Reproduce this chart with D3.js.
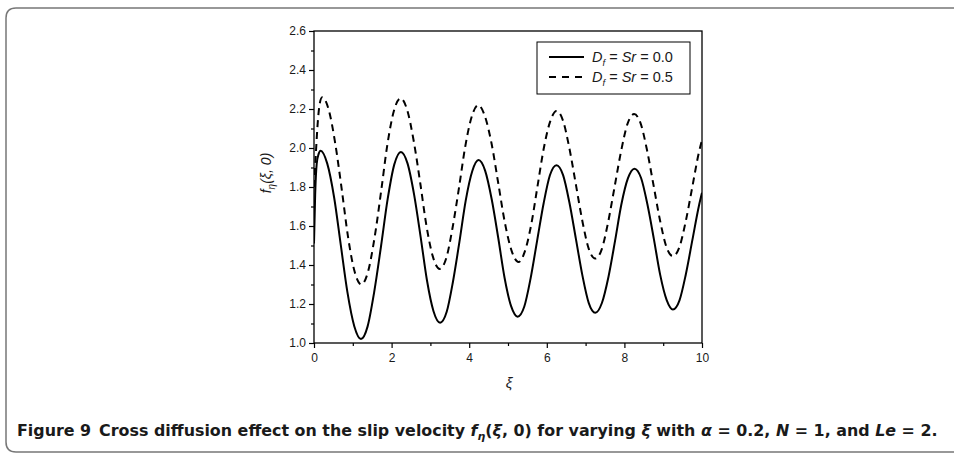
<!DOCTYPE html>
<html>
<head>
<meta charset="utf-8">
<script src="https://cdn.jsdelivr.net/npm/d3@7"></script>
<style>
  body { margin: 0; background: #fff; }
  svg { display: block; }
  text { font-family: Arial, "Liberation Sans", sans-serif; fill: #1a1a1a; }
</style>
</head>
<body>
<svg width="954" height="456"></svg>
<script>
// solid curve, Df = Sr = 0.0
const solidXi = [0, 0.03, 0.07, 0.12, 0.17, 0.34, 0.52, 0.69, 0.86, 1.04, 1.21,
  1.38, 1.55, 1.73, 1.90, 2.07, 2.24, 2.41, 2.58, 2.75, 2.91, 3.08, 3.25,
  3.42, 3.58, 3.75, 3.91, 4.08, 4.24, 4.41, 4.58, 4.75, 4.91, 5.08, 5.25,
  5.42, 5.58, 5.75, 5.92, 6.08, 6.25, 6.42, 6.58, 6.75, 6.92, 7.08, 7.25,
  7.42, 7.59, 7.76, 7.92, 8.09, 8.26, 8.43, 8.59, 8.76, 8.92, 9.09, 9.25,
  9.42, 9.58, 9.75, 9.92, 10.0];
const solidF = [1.51, 1.76, 1.92, 1.97, 1.986, 1.921, 1.745, 1.503, 1.262, 1.085, 1.020,
  1.084, 1.26, 1.50, 1.74, 1.916, 1.98, 1.921, 1.761, 1.542, 1.323, 1.163, 1.104,
  1.160, 1.313, 1.521, 1.730, 1.882, 1.938, 1.884, 1.737, 1.537, 1.336, 1.189, 1.135,
  1.187, 1.329, 1.524, 1.718, 1.860, 1.912, 1.861, 1.723, 1.534, 1.344, 1.206, 1.155,
  1.205, 1.340, 1.525, 1.709, 1.844, 1.894, 1.846, 1.714, 1.533, 1.352, 1.220, 1.172,
  1.219, 1.349, 1.526, 1.703, 1.77];

// dashed curve, Df = Sr = 0.5
const dashedXi = [0, 0.05, 0.10, 0.15, 0.21, 0.38, 0.55, 0.72, 0.88, 1.05, 1.22,
  1.39, 1.56, 1.73, 1.89, 2.06, 2.23, 2.40, 2.57, 2.74, 2.90, 3.07, 3.24,
  3.41, 3.57, 3.74, 3.90, 4.07, 4.23, 4.40, 4.58, 4.75, 4.92, 5.10, 5.27,
  5.43, 5.60, 5.76, 5.92, 6.09, 6.25, 6.42, 6.58, 6.75, 6.92, 7.08, 7.25,
  7.42, 7.58, 7.75, 7.92, 8.08, 8.25, 8.42, 8.58, 8.75, 8.92, 9.08, 9.25,
  9.42, 9.58, 9.75, 9.92, 10.0];
const dashedF = [1.80, 1.98, 2.14, 2.23, 2.26, 2.196, 2.02, 1.78, 1.54, 1.364, 1.30,
  1.364, 1.539, 1.778, 2.016, 2.191, 2.255, 2.196, 2.036, 1.818, 1.599, 1.439, 1.38,
  1.436, 1.59, 1.80, 2.01, 2.164, 2.22, 2.166, 2.019, 1.818, 1.616, 1.469, 1.415,
  1.467, 1.609, 1.803, 1.996, 2.138, 2.19, 2.139, 2.001, 1.812, 1.622, 1.484, 1.433,
  1.483, 1.619, 1.804, 1.989, 2.124, 2.174, 2.125, 1.992, 1.810, 1.627, 1.494, 1.445,
  1.493, 1.623, 1.80, 1.977, 2.04];

const xMajor = [0, 2, 4, 6, 8, 10];
const xMinor = [1, 3, 5, 7, 9];
const yMajor = [1.0, 1.2, 1.4, 1.6, 1.8, 2.0, 2.2, 2.4, 2.6];
const yMinor = [1.1, 1.3, 1.5, 1.7, 1.9, 2.1, 2.3, 2.5];
const legendLabels = ["0.0", "0.5"];

const svg = d3.select("svg");
const pLeft = 314, pRight = 702, pTop = 31, pBottom = 343;

// outer figure frame, cut at the right edge
svg.append("path")
  .attr("d", "M 960 8 L 16 8 Q 6 8 6 18 L 6 442 Q 6 452 16 452 L 960 452")
  .attr("fill", "none")
  .attr("stroke", "#777")
  .attr("stroke-width", 1.5);

let x = d3.scaleLinear().domain([0, 10]).range([pLeft, pRight]);
let y = d3.scaleLinear().domain([1.0, 2.6]).range([pBottom, pTop]);

svg.append("clipPath").attr("id", "plot")
  .append("rect")
  .attr("x", pLeft).attr("y", pTop)
  .attr("width", pRight - pLeft).attr("height", pBottom - pTop);

let line = d3.line()
  .x(d => x(d[0]))
  .y(d => y(d[1]))
  .curve(d3.curveMonotoneX);

svg.append("path")
  .datum(solidXi.map((v, i) => [v, solidF[i]]))
  .attr("d", line)
  .attr("clip-path", "url(#plot)")
  .attr("fill", "none")
  .attr("stroke", "#000")
  .attr("stroke-width", 2);

svg.append("path")
  .datum(dashedXi.map((v, i) => [v, dashedF[i]]))
  .attr("d", line)
  .attr("clip-path", "url(#plot)")
  .attr("fill", "none")
  .attr("stroke", "#000")
  .attr("stroke-width", 2)
  .attr("stroke-dasharray", "7,5");

// axes
let xAxis = d3.axisBottom(x).tickValues(xMajor).tickFormat(d3.format("d"))
  .tickSizeInner(5).tickSizeOuter(0).tickPadding(5);
let xAxisMinor = d3.axisBottom(x).tickValues(xMinor).tickFormat("")
  .tickSizeInner(3).tickSizeOuter(0);
let yAxis = d3.axisLeft(y).tickValues(yMajor).tickFormat(d3.format(".1f"))
  .tickSizeInner(5).tickSizeOuter(0).tickPadding(3);
let yAxisMinor = d3.axisLeft(y).tickValues(yMinor).tickFormat("")
  .tickSizeInner(3).tickSizeOuter(0);

[[xAxis, "bottom"], [xAxisMinor, "bottom"], [yAxis, "left"], [yAxisMinor, "left"]]
  .forEach(([ax, side]) => {
    let g = svg.append("g")
      .attr("transform", side == "bottom" ? `translate(0,${pBottom})` : `translate(${pLeft},0)`)
      .call(ax);
    g.select(".domain").remove();
    g.selectAll("line").attr("stroke", "#000").attr("stroke-width", 1.2);
    g.selectAll("text")
      .style("font-family", "Arial, 'Liberation Sans', sans-serif")
      .style("font-size", "12px")
      .attr("fill", "#1a1a1a");
  });

svg.append("rect")
  .attr("x", pLeft).attr("y", pTop)
  .attr("width", pRight - pLeft).attr("height", pBottom - pTop)
  .attr("fill", "none")
  .attr("stroke", "#000")
  .attr("stroke-width", 1.3);

// axis titles
let yTitle = svg.append("text")
  .attr("transform", "translate(271,173) rotate(-90)")
  .attr("text-anchor", "middle")
  .style("font-size", "14px")
  .style("font-style", "italic");
yTitle.append("tspan").text("f");
yTitle.append("tspan").attr("dy", 4).style("font-size", "10px").text("η");
yTitle.append("tspan").attr("dy", -4).text("(ξ, 0)");

svg.append("text")
  .attr("x", 509).attr("y", 388)
  .attr("text-anchor", "middle")
  .style("font-size", "15px")
  .style("font-style", "italic")
  .text("ξ");

// legend
svg.append("rect")
  .attr("x", 537).attr("y", 42).attr("width", 153).attr("height", 52)
  .attr("fill", "#fff").attr("stroke", "#000").attr("stroke-width", 1);

legendLabels.forEach((lab, i) => {
  let ly = 57 + i * 20;
  svg.append("line")
    .attr("x1", 549).attr("x2", 584).attr("y1", ly).attr("y2", ly)
    .attr("stroke", "#000").attr("stroke-width", 2)
    .attr("stroke-dasharray", i == 0 ? null : "7,6");
  let t = svg.append("text")
    .attr("x", 592).attr("y", ly + 5)
    .style("font-size", "14.5px");
  t.append("tspan").style("font-style", "italic").text("D");
  t.append("tspan").attr("dy", 4).style("font-size", "9.5px").style("font-style", "italic").text("f");
  t.append("tspan").attr("dy", -4).text(" = ");
  t.append("tspan").style("font-style", "italic").text("Sr");
  t.append("tspan").text(" = " + lab);
});

// caption
let cap = svg.append("text")
  .attr("x", 0).attr("y", 0)
  .style("font-family", "'DejaVu Sans Condensed', 'Liberation Sans Narrow', 'Open Sans', sans-serif")
  .style("font-size", "16px")
  .style("font-weight", "bold");
cap.append("tspan").text("Figure 9\u2002Cross diffusion effect on the slip velocity ");
cap.append("tspan").style("font-style", "italic").text("f");
cap.append("tspan").attr("dy", 4).style("font-size", "11px").style("font-style", "italic").text("η");
cap.append("tspan").attr("dy", -4).text("(");
cap.append("tspan").style("font-style", "italic").text("ξ");
cap.append("tspan").text(", 0) for varying ");
cap.append("tspan").style("font-style", "italic").text("ξ");
cap.append("tspan").text(" with ");
cap.append("tspan").style("font-style", "italic").text("α");
cap.append("tspan").text(" = 0.2, ");
cap.append("tspan").style("font-style", "italic").text("N");
cap.append("tspan").text(" = 1, and ");
cap.append("tspan").style("font-style", "italic").text("Le");
cap.append("tspan").text(" = 2.");

let w = cap.node().getComputedTextLength();
cap.attr("transform", `translate(17,436) scale(${921 / w},1)`);
</script>
</body>
</html>
